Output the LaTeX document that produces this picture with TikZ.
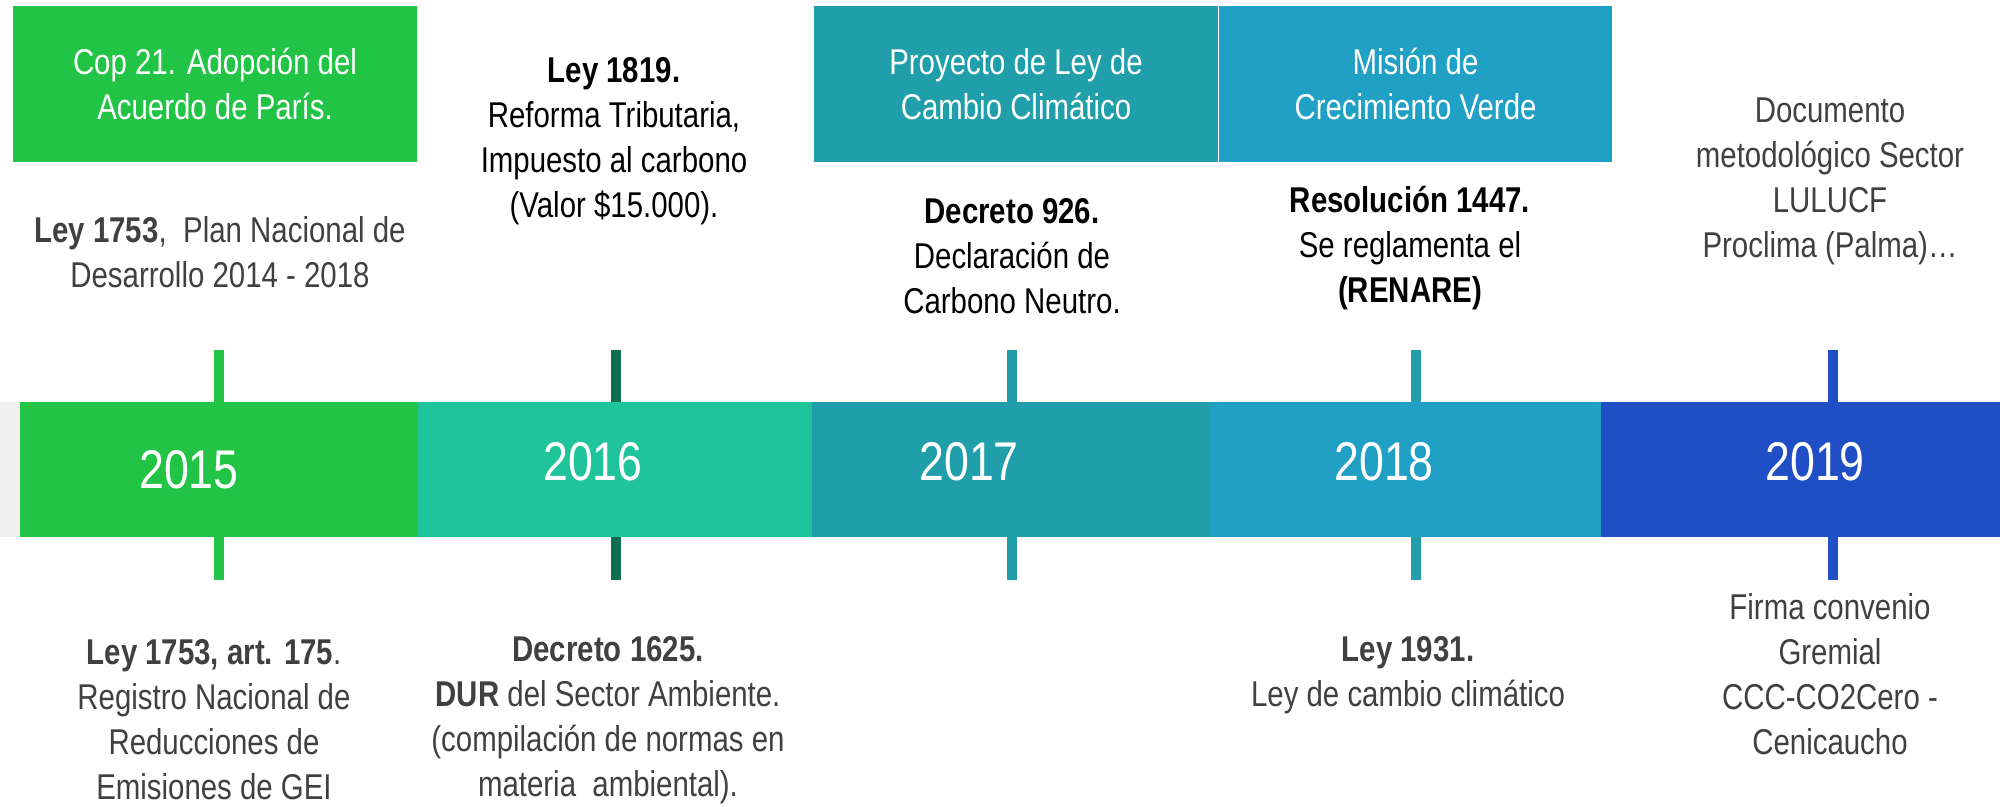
\documentclass[tikz,border=0pt]{standalone}
\usepackage{fontspec}
\setmainfont{Liberation Sans}[FakeStretch=0.82]
\definecolor{verde}{HTML}{21C445}
\definecolor{menta}{HTML}{20C49A}
\definecolor{turquesa}{HTML}{209FAA}
\definecolor{celeste}{HTML}{20A0C5}
\definecolor{azul}{HTML}{1F4EC5}
\definecolor{pino}{HTML}{0E6E50}
\definecolor{gris}{HTML}{404040}
\definecolor{fondo}{HTML}{F0F0F0}
\begin{document}
\begin{tikzpicture}[x=0.01cm, y=-0.01cm,
  txt/.style={align=center, inner sep=0pt, font=\fontsize{10.2}{12.8}\selectfont},
  caja/.style={txt, text=white, minimum height=1.56cm, minimum width=4.04cm},
  seg/.style={rectangle, inner sep=0pt, outer sep=0pt, minimum height=1.35cm},
  anio/.style={inner sep=0pt, text=white, font=\fontsize{15.5}{16}\selectfont},
  marca/.style={line width=2.6pt}]
\useasboundingbox (0,0) rectangle (2000,806);

% Cajas superiores
\node[caja, fill=verde] (c15) at (215,84) {Cop 21. Adopción del\\Acuerdo de París.};
\node[caja, fill=turquesa] (c17) at (1016,84) {Proyecto de Ley de\\Cambio Climático};
\node[caja, fill=celeste, minimum width=3.93cm] (c18) at (1415.5,84) {Misión de\\Crecimiento Verde};

% Barra de años
\node[seg, fill=fondo, minimum width=0.21cm] (s00) at (10.5,469.5) {};
\node[seg, fill=verde, minimum width=3.99cm] (s15) at (220,469.5) {};
\node[seg, fill=menta, minimum width=3.95cm] (s16) at (616,469.5) {};
\node[seg, fill=turquesa, minimum width=3.98cm] (s17) at (1011.5,469.5) {};
\node[seg, fill=celeste, minimum width=3.92cm] (s18) at (1405.5,469.5) {};
\node[seg, fill=azul, minimum width=3.99cm] (s19) at (1800.5,469.5) {};
\node[anio] (a15) at (189,470) {2015};
\node[anio] (a16) at (593,462) {2016};
\node[anio] (a17) at (969,462) {2017};
\node[anio] (a18) at (1384,462) {2018};
\node[anio] (a19) at (1815,462) {2019};

% Marcas
\foreach \n/\x/\c in {15/219/verde, 16/616/pino, 17/1012/turquesa, 18/1416/turquesa, 19/1833/azul} {
  \coordinate (m\n) at (\x,350);
  \coordinate (n\n) at (\x,580);
  \draw[marca, \c] (m\n) -- (m\n |- s\n.north);
  \draw[marca, \c] (s\n.south -| n\n) -- (n\n);
}

% Textos de arriba
\node[txt, text=gris] (t15) at (220,252) {\textbf{Ley 1753},\ \ Plan Nacional de\\Desarrollo 2014 - 2018};
\node[txt] (t16) at (614,141) {\textbf{Ley 1819.}\\Reforma Tributaria,\\Impuesto al carbono\\(Valor \$15.000).};
\node[txt] (t17) at (1012,256) {\textbf{Decreto 926.}\\Declaración de\\Carbono Neutro.};
\node[txt] (t18) at (1410,248) {\textbf{Resolución 1447.}\\Se reglamenta el\\\textbf{(RENARE)}};
\node[txt, text=gris] (t19) at (1830,181) {Documento\\metodológico Sector\\LULUCF\\Proclima (Palma)…};

% Textos de abajo
\node[txt, text=gris] (b15) at (214,720) {\textbf{Ley 1753, art. 175}.\\Registro Nacional de\\Reducciones de\\Emisiones de GEI};
\node[txt, text=gris] (b16) at (608,720) {\textbf{Decreto 1625.}\\\textbf{DUR} del Sector Ambiente.\\(compilación de normas en\\materia\ \ ambiental).};
\node[txt, text=gris] (b18) at (1408,675) {\textbf{Ley 1931.}\\Ley de cambio climático};
\node[txt, text=gris] (b19) at (1830,674) {Firma convenio\\Gremial\\CCC-CO2Cero -\\Cenicaucho};
\end{tikzpicture}
\end{document}
